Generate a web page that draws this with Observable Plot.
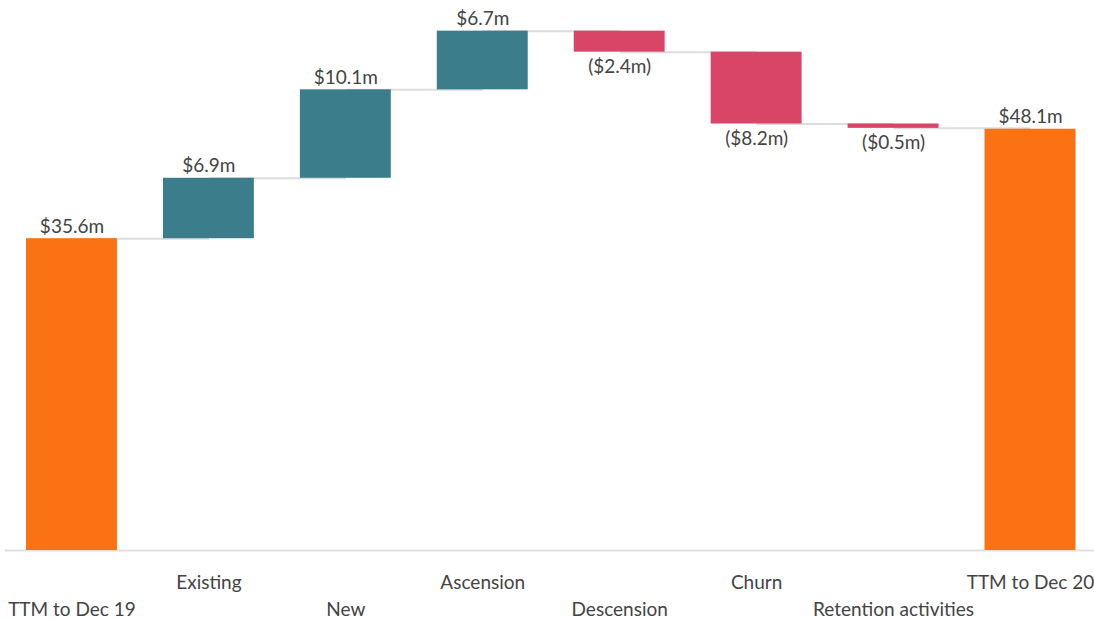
<!DOCTYPE html>
<html>
<head>
<meta charset="utf-8">
<script src="https://cdn.jsdelivr.net/npm/d3@7"></script>
<script src="https://cdn.jsdelivr.net/npm/@observablehq/plot@0.6"></script>
<style>
  html, body { margin: 0; padding: 0; background: #fff; }
  #chart { width: 1094px; height: 620px; overflow: hidden; }
</style>
</head>
<body>
<div id="chart"></div>
<script>
const categories = ["TTM to Dec 19", "Existing", "New", "Ascension", "Descension", "Churn", "Retention activities", "TTM to Dec 20"];
const values = [35.6, 6.9, 10.1, 6.7, -2.4, -8.2, -0.5, 48.1];
const kinds = ["total", "delta", "delta", "delta", "delta", "delta", "delta", "total"];
const labels = ["$35.6m", "$6.9m", "$10.1m", "$6.7m", "($2.4m)", "($8.2m)", "($0.5m)", "$48.1m"];

const colors = { total: "#FA7214", up: "#3C7D8C", down: "#D84567" };

let run = 0;
const rows = categories.map((c, i) => {
  let start, end;
  if (kinds[i] === "total") { start = 0; end = values[i]; run = values[i]; }
  else { start = run; end = run + values[i]; run = end; }
  const type = kinds[i] === "total" ? "total" : (values[i] >= 0 ? "up" : "down");
  return { cat: c, i, start, end, type, label: labels[i], top: Math.max(start, end), bottom: Math.min(start, end) };
});
const connectors = rows.slice(0, -1).map((r, i) => ({ a: r.cat, b: rows[i + 1].cat, level: r.end }));

const font = "Lato, 'Source Sans Pro', sans-serif";

const chart = Plot.plot({
  width: 1094,
  height: 620,
  marginTop: 0,
  marginBottom: 70,
  marginLeft: 5,
  marginRight: 0,
  style: { fontFamily: font, fontSize: "19px", color: "#444", background: "#fff" },
  x: { domain: categories, range: [5.46, 1096.0], paddingInner: 0.336, paddingOuter: 0.15, round: false, axis: null },
  y: { domain: [0, 62.8], axis: null },
  marks: [
    Plot.ruleY([0], { stroke: "#e0e0e0", strokeWidth: 2 }),
    Plot.link(connectors, { x1: "a", x2: "b", y1: "level", y2: "level", stroke: "#dcdcdc", strokeWidth: 2 }),
    Plot.barY(rows, { x: "cat", y1: "start", y2: "end", fill: d => colors[d.type] }),
    Plot.text(rows.filter(d => d.type !== "down"), { x: "cat", y: "top", text: "label", dy: -12, fill: "#444", fontSize: 19 }),
    Plot.text(rows.filter(d => d.type === "down"), { x: "cat", y: "bottom", text: "label", dy: 15, fill: "#444", fontSize: 19 }),
    Plot.text(rows.filter(d => d.i % 2 === 1), { x: "cat", text: "cat", frameAnchor: "bottom", dy: 38, fill: "#444", fontSize: 19 }),
    Plot.text(rows.filter(d => d.i % 2 === 0), { x: "cat", text: "cat", frameAnchor: "bottom", dy: 65, fill: "#444", fontSize: 19 })
  ]
});
document.getElementById("chart").appendChild(chart);
</script>
</body>
</html>
